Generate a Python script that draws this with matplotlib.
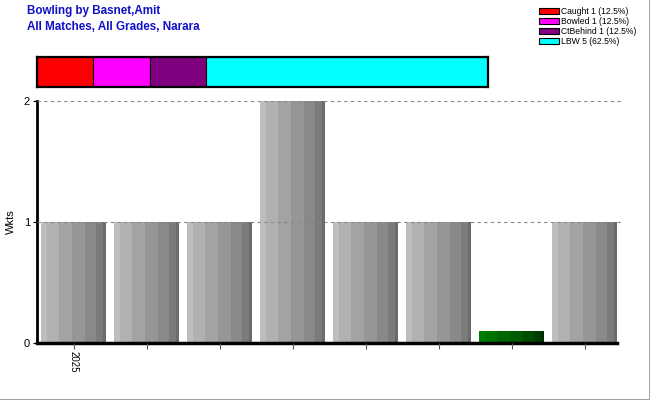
import matplotlib
matplotlib.use("Agg")
from matplotlib import pyplot as plt
from matplotlib.patches import Patch
from matplotlib.lines import Line2D
import numpy as np

plt.rcParams['font.family'] = ['Liberation Sans', 'DejaVu Sans']

# wickets per match (0 drawn as a small green stub)
matches = ["2025", "", "", "", "", "", "", ""]
wkts = [1, 1, 1, 2, 1, 1, 0, 1]
zero_stub = 0.1

# dismissal breakdown
kinds = ["Caught", "Bowled", "CtBehind", "LBW"]
kind_counts = [1, 1, 1, 5]
kind_colors = ["#ff0000", "#ff00ff", "#800080", "#00ffff"]

grey_shades = ["#bebebe", "#b1b1b1", "#a3a3a3", "#969696", "#898989", "#7b7b7b", "#6b6b6b"]
green_shades = ["#008000", "#007400", "#006700", "#005a00", "#004d00", "#003f00", "#003000"]
stripe_w = [0.09, 0.19, 0.2, 0.2, 0.17, 0.11, 0.04]

fig = plt.figure(figsize=(6.5, 4), dpi=100)
# grey frame only on right and bottom edges
fig.lines.append(Line2D([0, 1, 1], [0.001, 0.001, 1], transform=fig.transFigure,
                        color="#999999", lw=2))

fig.text(27/650, 1 - 11/400, "Bowling by Basnet,Amit", color="#1010c8", fontsize=8.4,
         fontweight="bold", va="center")
fig.text(27/650, 1 - 27/400, "All Matches, All Grades, Narara", color="#1010c8", fontsize=8.4,
         fontweight="bold", va="center")

# main bar chart
ax = fig.add_axes([37/650, 57/400, 584/650, 242/400])
x = np.arange(len(wkts))
bw = 0.88
for i, v in enumerate(wkts):
    h = v if v > 0 else zero_stub
    shades = grey_shades if v > 0 else green_shades
    left = i - bw/2
    for c, w in zip(shades, stripe_w):
        ax.bar(left, h, width=w*bw, align="edge", color=c, linewidth=0, zorder=2)
        left += w*bw
ax.set_xlim(-0.5, len(wkts) - 0.5)
ax.set_ylim(0, 2)
ax.set_yticks([0, 1, 2])
ax.yaxis.grid(True, linestyle=(0, (3, 3)), color="#888888", lw=0.8, zorder=3)
ax.set_axisbelow(False)
ax.set_xticks(x)
ax.set_xticklabels(matches, rotation=270, fontsize=7)
ax.tick_params(axis="y", labelsize=8, length=3, pad=2)
ax.tick_params(axis="x", length=4, pad=2, color="#555555")
ax.set_ylabel("Wkts", fontsize=8, labelpad=6)
ax.spines["top"].set_visible(False)
ax.spines["right"].set_visible(False)
ax.spines["left"].set_linewidth(2)
ax.spines["bottom"].set_linewidth(2.5)
ax.spines["bottom"].set_bounds(-0.5, len(wkts) - 0.55)

# dismissal strip
ax2 = fig.add_axes([37/650, 313/400, 451/650, 30/400])
left = 0
for n, c in zip(kind_counts, kind_colors):
    ax2.barh(0, n, left=left, height=1, color=c, edgecolor="black", lw=0.8)
    left += n
ax2.set_xlim(0, sum(kind_counts))
ax2.set_ylim(-0.5, 0.5)
ax2.set_xticks([])
ax2.set_yticks([])
for s in ax2.spines.values():
    s.set_linewidth(1.6)

total = sum(kind_counts)
handles = [Patch(facecolor=c, edgecolor="black", lw=0.8) for c in kind_colors]
labels = [f"{k} {n} ({100*n/total:.1f}%)" for k, n in zip(kinds, kind_counts)]
fig.legend(handles, labels, loc="upper left", bbox_to_anchor=(533/650, 1 - 1/400),
           fontsize=6.2, frameon=False, handlelength=2.3, handleheight=0.7,
           labelspacing=0.1, handletextpad=0.3, borderpad=0.2)

fig.savefig("out.png", dpi=100)
